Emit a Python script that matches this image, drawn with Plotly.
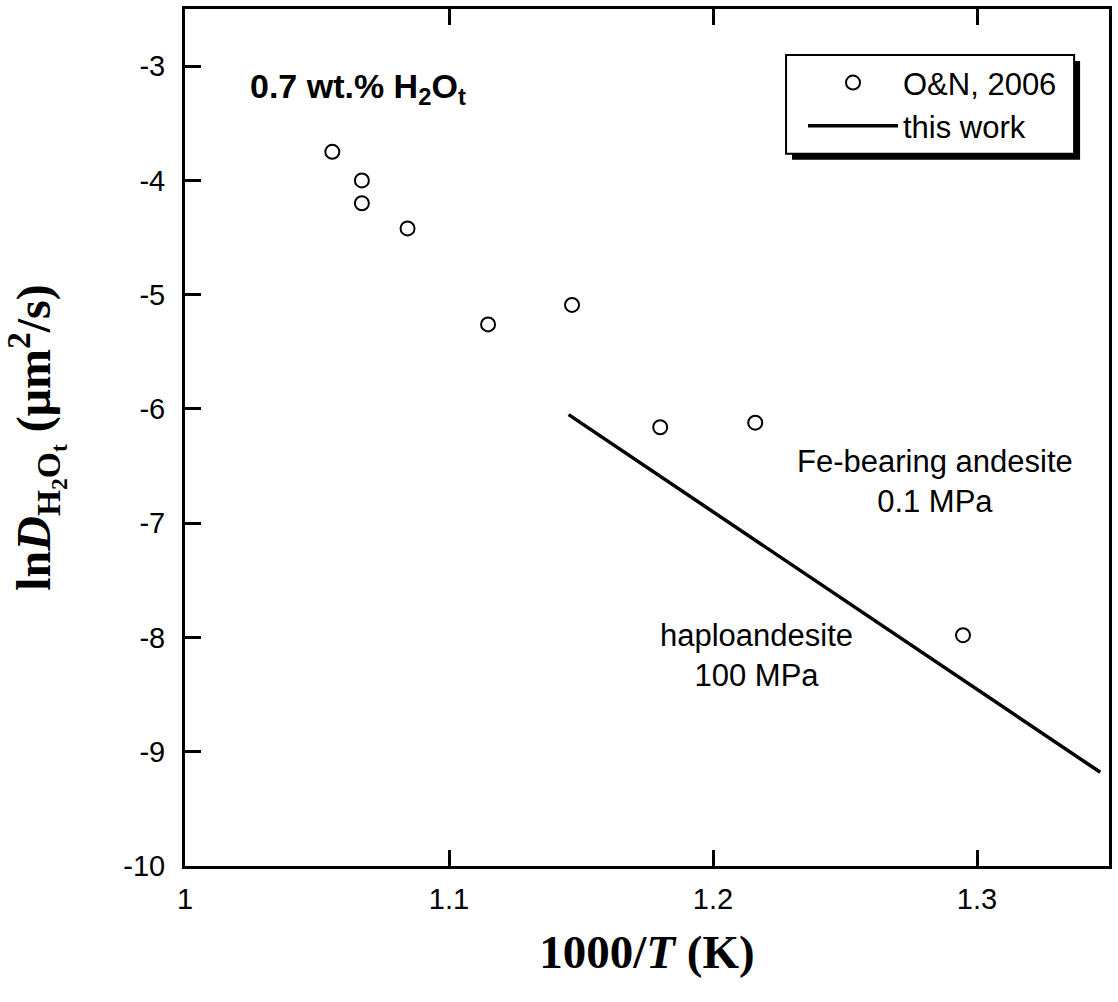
import plotly.graph_objects as go

# Ohlhorst & Nowak (2006) data, Fe-bearing andesite at 0.1 MPa
on_x = [1.0558, 1.0670, 1.0670, 1.0843, 1.1148, 1.1466, 1.1800, 1.2160, 1.2947]
on_y = [-3.75, -4.00, -4.20, -4.42, -5.26, -5.09, -6.16, -6.12, -7.98]

# Arrhenius fit from this work, haploandesite at 100 MPa
fit_x = [1.1453, 1.3467]
fit_y = [-6.05, -9.18]

x_ticks = [1, 1.1, 1.2, 1.3]
y_ticks = [-10, -9, -8, -7, -6, -5, -4, -3]

W, H = 1118, 1002
L, R, T, B = 185, 6, 7, 136


def px(x):
    return (x - L) / (W - L - R)


def py(y):
    return (H - B - y) / (H - T - B)


SANS = "Liberation Sans, Arial, Helvetica, sans-serif"
SERIF = "Liberation Serif, Times New Roman, serif"

fig = go.Figure()
fig.add_trace(go.Scatter(
    x=on_x, y=on_y, mode="markers", name="O&N, 2006",
    marker=dict(symbol="circle-open", size=14, color="black", line=dict(width=2, color="black")),
))
fig.add_trace(go.Scatter(
    x=fit_x, y=fit_y, mode="lines", name="this work",
    line=dict(color="black", width=3.5),
))

# legend frame with drop shadow
shapes = [
    dict(type="rect", xref="paper", yref="paper",
         x0=px(794), x1=px(1083), y0=py(158), y1=py(59),
         fillcolor="black", line=dict(width=0), layer="above"),
    dict(type="rect", xref="paper", yref="paper",
         x0=px(788), x1=px(1077), y0=py(152), y1=py(53),
         fillcolor="white", line=dict(color="black", width=2), layer="above"),
]


def label(text, x, y, size, anchor="center"):
    return dict(text=text, x=px(x), y=py(y), xref="paper", yref="paper",
                xanchor=anchor, yanchor="middle", showarrow=False,
                font=dict(family=SANS, size=size, color="black"))


annotations = [
    label("<b>0.7 wt.% H<sub>2</sub>O<sub>t</sub></b>", 248, 87, 34, anchor="left"),
    label("Fe-bearing andesite<br>0.1 MPa", 937, 481, 31),
    label("haploandesite<br>100 MPa", 758, 655, 31),
]

fig.update_layout(
    width=W, height=H,
    margin=dict(l=L, r=R, t=T, b=B, pad=0),
    paper_bgcolor="white", plot_bgcolor="white",
    font=dict(family=SANS, color="black"),
    showlegend=True,
    legend=dict(
        x=px(805), y=py(54), xanchor="left", yanchor="top",
        bgcolor="rgba(0,0,0,0)", borderwidth=0,
        font=dict(family=SANS, size=31, color="black"),
        itemwidth=90, tracegroupgap=0,
    ),
    shapes=shapes,
    annotations=annotations,
)

fig.update_xaxes(
    range=[1, 1.35], tickvals=x_ticks, ticktext=[str(v) for v in x_ticks],
    ticks="inside", ticklen=16, tickwidth=3, tickcolor="black",
    showline=True, linewidth=3, linecolor="black", mirror="ticks",
    showgrid=False, zeroline=False, ticklabelstandoff=5,
    tickfont=dict(family=SANS, size=29, color="black"),
    title=dict(text="<b>1000/<i>T</i> (K)</b>", standoff=22,
               font=dict(family=SERIF, size=47, color="black")),
)
fig.update_yaxes(
    range=[-10, -2.5], tickvals=y_ticks, ticktext=[str(v) for v in y_ticks],
    ticks="inside", ticklen=16, tickwidth=3, tickcolor="black",
    showline=True, linewidth=3, linecolor="black", mirror=True,
    showgrid=False, zeroline=False, ticklabelstandoff=11,
    tickfont=dict(family=SANS, size=29, color="black"),
    title=dict(text="<b>ln<i>D</i><sub>H<sub>2</sub>O<sub>t</sub></sub> (μm<sup>2</sup>/s)</b>",
               standoff=60, font=dict(family=SERIF, size=48, color="black")),
)

fig.write_html("out.html")
